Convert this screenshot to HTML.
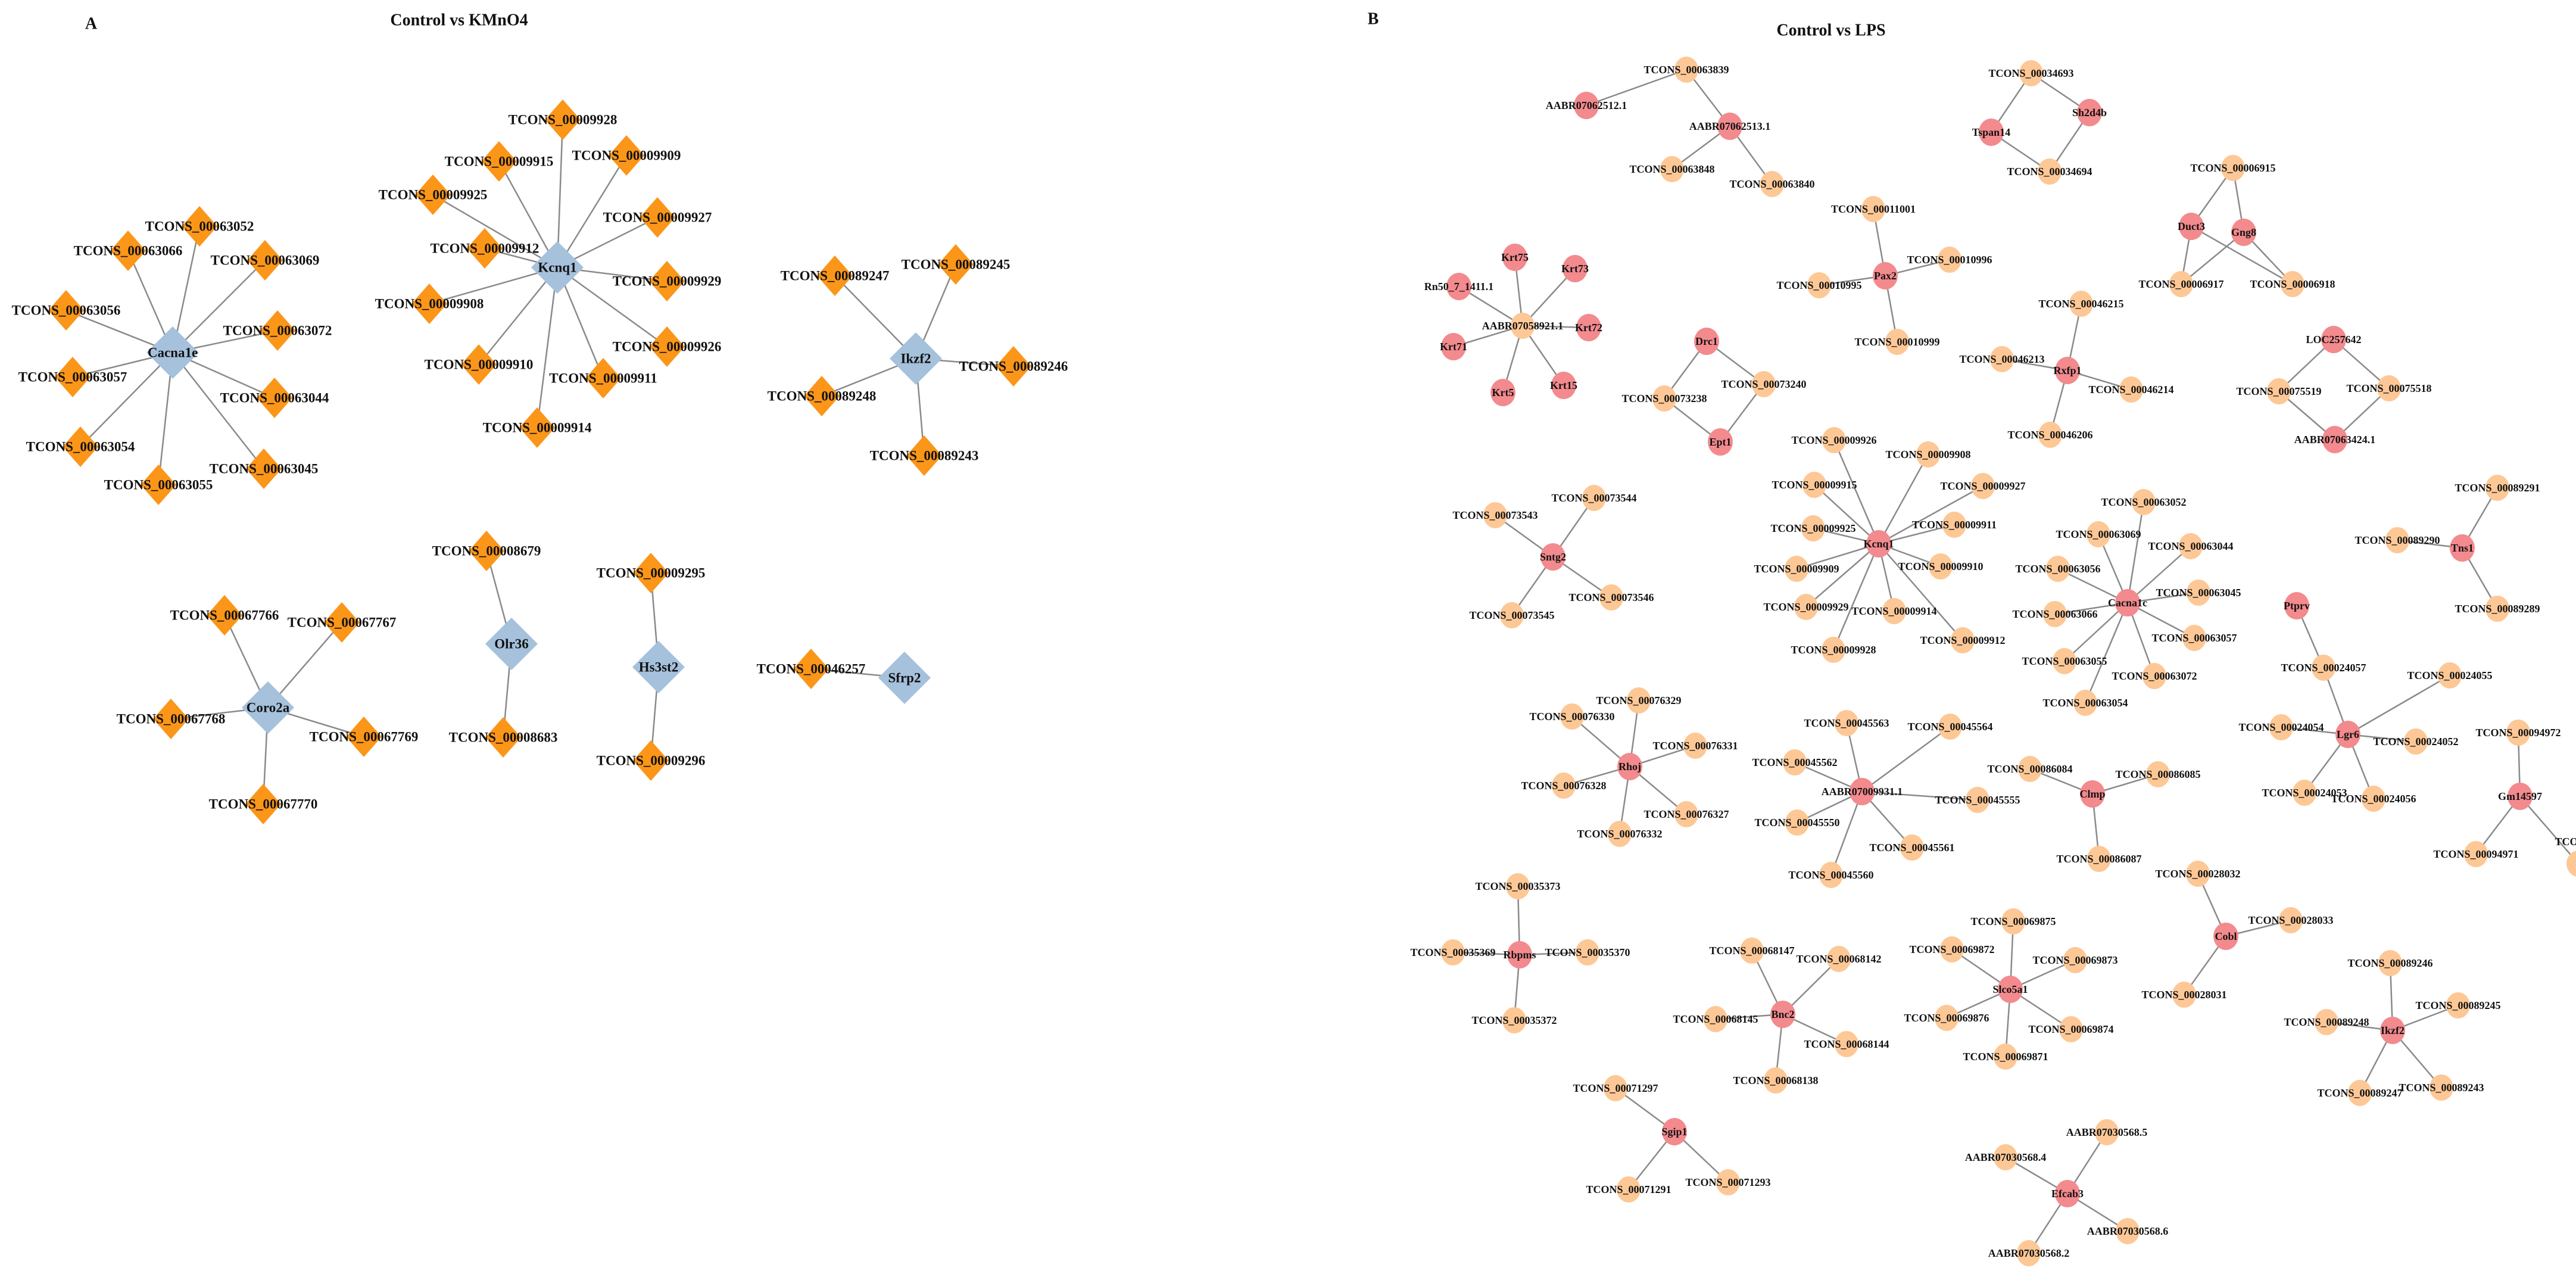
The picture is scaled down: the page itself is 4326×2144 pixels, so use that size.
<!DOCTYPE html>
<html><head><meta charset="utf-8"><style>
html,body{margin:0;padding:0;background:#fff;}
svg{display:block}
.a{font:bold 23px "Liberation Serif",serif;fill:#111;text-anchor:middle;dominant-baseline:central}
.b{font:bold 18px "Liberation Serif",serif;fill:#111;text-anchor:middle;dominant-baseline:central}
.t{font:bold 28px "Liberation Serif",serif;fill:#111;text-anchor:middle;dominant-baseline:central}
line{stroke:#8a8a8a;stroke-width:2.5}
</style></head><body>
<svg width="4326" height="2144" viewBox="0 0 4326 2144" xmlns="http://www.w3.org/2000/svg">
<defs>
<path id="dO" d="M0,-34 L30,0 L0,34 L-30,0Z" fill="#fb9619"/>
<path id="dB" d="M0,-44 L44,0 L0,44 L-44,0Z" fill="#a5c1dc"/>
<ellipse id="cO" rx="20" ry="22" fill="#fdc896"/>
<ellipse id="cR" rx="21" ry="23" fill="#f38a8e"/>
</defs>
<text class="t" x="153" y="40">A</text>
<text class="t" x="771" y="34">Control vs KMnO4</text>
<text class="t" x="2306" y="32">B</text>
<text class="t" x="3075" y="51">Control vs LPS</text>

<!-- Panel A edges -->
<g>
<line x1="290" y1="592" x2="335" y2="380"/><line x1="290" y1="592" x2="215" y2="421"/><line x1="290" y1="592" x2="445" y2="437"/><line x1="290" y1="592" x2="111" y2="521"/><line x1="290" y1="592" x2="466" y2="555"/><line x1="290" y1="592" x2="122" y2="633"/><line x1="290" y1="592" x2="461" y2="668"/><line x1="290" y1="592" x2="135" y2="750"/><line x1="290" y1="592" x2="443" y2="787"/><line x1="290" y1="592" x2="266" y2="814"/>
<line x1="936" y1="449" x2="945" y2="201"/><line x1="936" y1="449" x2="838" y2="271"/><line x1="936" y1="449" x2="1052" y2="261"/><line x1="936" y1="449" x2="727" y2="327"/><line x1="936" y1="449" x2="1104" y2="365"/><line x1="936" y1="449" x2="814" y2="417"/><line x1="936" y1="449" x2="1120" y2="472"/><line x1="936" y1="449" x2="721" y2="510"/><line x1="936" y1="449" x2="1120" y2="582"/><line x1="936" y1="449" x2="804" y2="612"/><line x1="936" y1="449" x2="1013" y2="635"/><line x1="936" y1="449" x2="902" y2="718"/>
<line x1="1538" y1="602" x2="1402" y2="463"/><line x1="1538" y1="602" x2="1605" y2="444"/><line x1="1538" y1="602" x2="1702" y2="615"/><line x1="1538" y1="602" x2="1380" y2="665"/><line x1="1538" y1="602" x2="1552" y2="765"/>
<line x1="450" y1="1188" x2="377" y2="1033"/><line x1="450" y1="1188" x2="574" y2="1045"/><line x1="450" y1="1188" x2="287" y2="1207"/><line x1="450" y1="1188" x2="611" y2="1237"/><line x1="450" y1="1188" x2="442" y2="1350"/>
<line x1="859" y1="1081" x2="817" y2="925"/><line x1="859" y1="1081" x2="845" y2="1238"/>
<line x1="1106" y1="1120" x2="1093" y2="962"/><line x1="1106" y1="1120" x2="1093" y2="1277"/>
<line x1="1519" y1="1138" x2="1362" y2="1123"/>
</g>
<!-- Panel A nodes -->
<g>
<use href="#dO" x="335" y="380"/><use href="#dO" x="215" y="421"/><use href="#dO" x="445" y="437"/><use href="#dO" x="111" y="521"/><use href="#dO" x="466" y="555"/><use href="#dO" x="122" y="633"/><use href="#dO" x="461" y="668"/><use href="#dO" x="135" y="750"/><use href="#dO" x="443" y="787"/><use href="#dO" x="266" y="814"/>
<use href="#dO" x="945" y="201"/><use href="#dO" x="838" y="271"/><use href="#dO" x="1052" y="261"/><use href="#dO" x="727" y="327"/><use href="#dO" x="1104" y="365"/><use href="#dO" x="814" y="417"/><use href="#dO" x="1120" y="472"/><use href="#dO" x="721" y="510"/><use href="#dO" x="1120" y="582"/><use href="#dO" x="804" y="612"/><use href="#dO" x="1013" y="635"/><use href="#dO" x="902" y="718"/>
<use href="#dO" x="1402" y="463"/><use href="#dO" x="1605" y="444"/><use href="#dO" x="1702" y="615"/><use href="#dO" x="1380" y="665"/><use href="#dO" x="1552" y="765"/>
<use href="#dO" x="377" y="1033"/><use href="#dO" x="574" y="1045"/><use href="#dO" x="287" y="1207"/><use href="#dO" x="611" y="1237"/><use href="#dO" x="442" y="1350"/>
<use href="#dO" x="817" y="925"/><use href="#dO" x="845" y="1238"/><use href="#dO" x="1093" y="962"/><use href="#dO" x="1093" y="1277"/><use href="#dO" x="1362" y="1123"/>
<use href="#dB" x="290" y="592"/><use href="#dB" x="936" y="449"/><use href="#dB" x="1538" y="602"/><use href="#dB" x="450" y="1188"/><use href="#dB" x="859" y="1081"/><use href="#dB" x="1106" y="1120"/><use href="#dB" x="1519" y="1138"/>
</g>
<g>
<text class="a" x="335" y="380">TCONS_00063052</text><text class="a" x="215" y="421">TCONS_00063066</text><text class="a" x="445" y="437">TCONS_00063069</text><text class="a" x="111" y="521">TCONS_00063056</text><text class="a" x="466" y="555">TCONS_00063072</text><text class="a" x="122" y="633">TCONS_00063057</text><text class="a" x="461" y="668">TCONS_00063044</text><text class="a" x="135" y="750">TCONS_00063054</text><text class="a" x="443" y="787">TCONS_00063045</text><text class="a" x="266" y="814">TCONS_00063055</text>
<text class="a" x="945" y="201">TCONS_00009928</text><text class="a" x="838" y="271">TCONS_00009915</text><text class="a" x="1052" y="261">TCONS_00009909</text><text class="a" x="727" y="327">TCONS_00009925</text><text class="a" x="1104" y="365">TCONS_00009927</text><text class="a" x="814" y="417">TCONS_00009912</text><text class="a" x="1120" y="472">TCONS_00009929</text><text class="a" x="721" y="510">TCONS_00009908</text><text class="a" x="1120" y="582">TCONS_00009926</text><text class="a" x="804" y="612">TCONS_00009910</text><text class="a" x="1013" y="635">TCONS_00009911</text><text class="a" x="902" y="718">TCONS_00009914</text>
<text class="a" x="1402" y="463">TCONS_00089247</text><text class="a" x="1605" y="444">TCONS_00089245</text><text class="a" x="1702" y="615">TCONS_00089246</text><text class="a" x="1380" y="665">TCONS_00089248</text><text class="a" x="1552" y="765">TCONS_00089243</text>
<text class="a" x="377" y="1033">TCONS_00067766</text><text class="a" x="574" y="1045">TCONS_00067767</text><text class="a" x="287" y="1207">TCONS_00067768</text><text class="a" x="611" y="1237">TCONS_00067769</text><text class="a" x="442" y="1350">TCONS_00067770</text>
<text class="a" x="817" y="925">TCONS_00008679</text><text class="a" x="845" y="1238">TCONS_00008683</text><text class="a" x="1093" y="962">TCONS_00009295</text><text class="a" x="1093" y="1277">TCONS_00009296</text><text class="a" x="1362" y="1123">TCONS_00046257</text>
<text class="a" x="290" y="592">Cacna1e</text><text class="a" x="936" y="449">Kcnq1</text><text class="a" x="1538" y="602">Ikzf2</text><text class="a" x="450" y="1188">Coro2a</text><text class="a" x="859" y="1081">Olr36</text><text class="a" x="1106" y="1120">Hs3st2</text><text class="a" x="1519" y="1138">Sfrp2</text>
</g>

<!-- Panel B edges -->
<g>
<line x1="2832" y1="117" x2="2664" y2="177"/><line x1="2832" y1="117" x2="2905" y2="212"/><line x1="2905" y1="212" x2="2808" y2="284"/><line x1="2905" y1="212" x2="2976" y2="309"/>
<line x1="3411" y1="123" x2="3344" y2="222"/><line x1="3411" y1="123" x2="3509" y2="189"/><line x1="3344" y1="222" x2="3442" y2="288"/><line x1="3509" y1="189" x2="3442" y2="288"/>
<line x1="3750" y1="282" x2="3680" y2="380"/><line x1="3750" y1="282" x2="3768" y2="390"/><line x1="3680" y1="380" x2="3663" y2="477"/><line x1="3680" y1="380" x2="3850" y2="477"/><line x1="3768" y1="390" x2="3663" y2="477"/><line x1="3768" y1="390" x2="3850" y2="477"/>
<line x1="3166" y1="463" x2="3146" y2="351"/><line x1="3166" y1="463" x2="3274" y2="436"/><line x1="3166" y1="463" x2="3055" y2="479"/><line x1="3166" y1="463" x2="3186" y2="574"/>
<line x1="2557" y1="547" x2="2544" y2="432"/><line x1="2557" y1="547" x2="2645" y2="451"/><line x1="2557" y1="547" x2="2450" y2="481"/><line x1="2557" y1="547" x2="2668" y2="550"/><line x1="2557" y1="547" x2="2441" y2="582"/><line x1="2557" y1="547" x2="2524" y2="659"/><line x1="2557" y1="547" x2="2626" y2="647"/>
<line x1="2866" y1="573" x2="2962" y2="645"/><line x1="2866" y1="573" x2="2795" y2="669"/><line x1="2795" y1="669" x2="2889" y2="742"/><line x1="2962" y1="645" x2="2889" y2="742"/>
<line x1="3472" y1="622" x2="3495" y2="510"/><line x1="3472" y1="622" x2="3362" y2="603"/><line x1="3472" y1="622" x2="3579" y2="654"/><line x1="3472" y1="622" x2="3443" y2="730"/>
<line x1="3919" y1="570" x2="3827" y2="657"/><line x1="3919" y1="570" x2="4012" y2="652"/><line x1="3827" y1="657" x2="3921" y2="738"/><line x1="4012" y1="652" x2="3921" y2="738"/>
<line x1="3155" y1="913" x2="3080" y2="739"/><line x1="3155" y1="913" x2="3238" y2="763"/><line x1="3155" y1="913" x2="3047" y2="814"/><line x1="3155" y1="913" x2="3330" y2="816"/><line x1="3155" y1="913" x2="3045" y2="887"/><line x1="3155" y1="913" x2="3282" y2="881"/><line x1="3155" y1="913" x2="3017" y2="955"/><line x1="3155" y1="913" x2="3259" y2="951"/><line x1="3155" y1="913" x2="3033" y2="1019"/><line x1="3155" y1="913" x2="3181" y2="1026"/><line x1="3155" y1="913" x2="3296" y2="1075"/><line x1="3155" y1="913" x2="3079" y2="1091"/>
<line x1="2608" y1="935" x2="2677" y2="836"/><line x1="2608" y1="935" x2="2511" y2="865"/><line x1="2608" y1="935" x2="2706" y2="1003"/><line x1="2608" y1="935" x2="2539" y2="1033"/>
<line x1="3573" y1="1012" x2="3600" y2="843"/><line x1="3573" y1="1012" x2="3524" y2="897"/><line x1="3573" y1="1012" x2="3679" y2="917"/><line x1="3573" y1="1012" x2="3456" y2="955"/><line x1="3573" y1="1012" x2="3692" y2="995"/><line x1="3573" y1="1012" x2="3451" y2="1031"/><line x1="3573" y1="1012" x2="3685" y2="1071"/><line x1="3573" y1="1012" x2="3467" y2="1110"/><line x1="3573" y1="1012" x2="3618" y2="1135"/><line x1="3573" y1="1012" x2="3502" y2="1180"/>
<line x1="4135" y1="920" x2="4194" y2="819"/><line x1="4135" y1="920" x2="4026" y2="907"/><line x1="4135" y1="920" x2="4194" y2="1022"/>
<line x1="3857" y1="1017" x2="3902" y2="1121"/><line x1="3902" y1="1121" x2="3943" y2="1233"/><line x1="3943" y1="1233" x2="4114" y2="1134"/><line x1="3943" y1="1233" x2="3831" y2="1221"/><line x1="3943" y1="1233" x2="4057" y2="1245"/><line x1="3943" y1="1233" x2="3870" y2="1331"/><line x1="3943" y1="1233" x2="3986" y2="1341"/>
<line x1="4232" y1="1337" x2="4229" y2="1230"/><line x1="4232" y1="1337" x2="4158" y2="1434"/><line x1="4232" y1="1337" x2="4330" y2="1450"/>
<line x1="2737" y1="1287" x2="2752" y2="1176"/><line x1="2737" y1="1287" x2="2640" y2="1203"/><line x1="2737" y1="1287" x2="2847" y2="1252"/><line x1="2737" y1="1287" x2="2626" y2="1319"/><line x1="2737" y1="1287" x2="2832" y2="1367"/><line x1="2737" y1="1287" x2="2720" y2="1400"/>
<line x1="3127" y1="1329" x2="3101" y2="1214"/><line x1="3127" y1="1329" x2="3275" y2="1220"/><line x1="3127" y1="1329" x2="3014" y2="1280"/><line x1="3127" y1="1329" x2="3321" y2="1343"/><line x1="3127" y1="1329" x2="3018" y2="1381"/><line x1="3127" y1="1329" x2="3211" y2="1423"/><line x1="3127" y1="1329" x2="3075" y2="1469"/>
<line x1="3514" y1="1333" x2="3409" y2="1291"/><line x1="3514" y1="1333" x2="3624" y2="1300"/><line x1="3514" y1="1333" x2="3525" y2="1442"/>
<line x1="2552" y1="1603" x2="2549" y2="1488"/><line x1="2552" y1="1603" x2="2440" y2="1599"/><line x1="2552" y1="1603" x2="2666" y2="1599"/><line x1="2552" y1="1603" x2="2543" y2="1713"/>
<line x1="2994" y1="1703" x2="2942" y2="1596"/><line x1="2994" y1="1703" x2="3088" y2="1610"/><line x1="2994" y1="1703" x2="2881" y2="1711"/><line x1="2994" y1="1703" x2="3101" y2="1753"/><line x1="2994" y1="1703" x2="2982" y2="1814"/>
<line x1="3376" y1="1661" x2="3381" y2="1547"/><line x1="3376" y1="1661" x2="3278" y2="1594"/><line x1="3376" y1="1661" x2="3485" y2="1612"/><line x1="3376" y1="1661" x2="3269" y2="1709"/><line x1="3376" y1="1661" x2="3478" y2="1728"/><line x1="3376" y1="1661" x2="3368" y2="1774"/>
<line x1="3738" y1="1572" x2="3691" y2="1467"/><line x1="3738" y1="1572" x2="3847" y2="1545"/><line x1="3738" y1="1572" x2="3668" y2="1670"/>
<line x1="4018" y1="1730" x2="4014" y2="1617"/><line x1="4018" y1="1730" x2="4128" y2="1688"/><line x1="4018" y1="1730" x2="3907" y2="1716"/><line x1="4018" y1="1730" x2="3963" y2="1835"/><line x1="4018" y1="1730" x2="4100" y2="1826"/>
<line x1="2812" y1="1900" x2="2713" y2="1827"/><line x1="2812" y1="1900" x2="2735" y2="1997"/><line x1="2812" y1="1900" x2="2902" y2="1985"/>
<line x1="3472" y1="2004" x2="3538" y2="1901"/><line x1="3472" y1="2004" x2="3368" y2="1943"/><line x1="3472" y1="2004" x2="3573" y2="2067"/><line x1="3472" y1="2004" x2="3407" y2="2104"/>
</g>
<!-- Panel B nodes: orange -->
<g>
<use href="#cO" x="2832" y="117"/><use href="#cO" x="2808" y="284"/><use href="#cO" x="2976" y="309"/>
<use href="#cO" x="3411" y="123"/><use href="#cO" x="3442" y="288"/>
<use href="#cO" x="3750" y="282"/><use href="#cO" x="3663" y="477"/><use href="#cO" x="3850" y="477"/>
<use href="#cO" x="3146" y="351"/><use href="#cO" x="3274" y="436"/><use href="#cO" x="3055" y="479"/><use href="#cO" x="3186" y="574"/>
<use href="#cO" x="2557" y="547"/>
<use href="#cO" x="2962" y="645"/><use href="#cO" x="2795" y="669"/>
<use href="#cO" x="3495" y="510"/><use href="#cO" x="3362" y="603"/><use href="#cO" x="3579" y="654"/><use href="#cO" x="3443" y="730"/>
<use href="#cO" x="3827" y="657"/><use href="#cO" x="4012" y="652"/>
<use href="#cO" x="3080" y="739"/><use href="#cO" x="3238" y="763"/><use href="#cO" x="3047" y="814"/><use href="#cO" x="3330" y="816"/><use href="#cO" x="3045" y="887"/><use href="#cO" x="3282" y="881"/><use href="#cO" x="3017" y="955"/><use href="#cO" x="3259" y="951"/><use href="#cO" x="3033" y="1019"/><use href="#cO" x="3181" y="1026"/><use href="#cO" x="3296" y="1075"/><use href="#cO" x="3079" y="1091"/>
<use href="#cO" x="2677" y="836"/><use href="#cO" x="2511" y="865"/><use href="#cO" x="2706" y="1003"/><use href="#cO" x="2539" y="1033"/>
<use href="#cO" x="3600" y="843"/><use href="#cO" x="3524" y="897"/><use href="#cO" x="3679" y="917"/><use href="#cO" x="3456" y="955"/><use href="#cO" x="3692" y="995"/><use href="#cO" x="3451" y="1031"/><use href="#cO" x="3685" y="1071"/><use href="#cO" x="3467" y="1110"/><use href="#cO" x="3618" y="1135"/><use href="#cO" x="3502" y="1180"/>
<use href="#cO" x="4194" y="819"/><use href="#cO" x="4026" y="907"/><use href="#cO" x="4194" y="1022"/>
<use href="#cO" x="3902" y="1121"/><use href="#cO" x="4114" y="1134"/><use href="#cO" x="3831" y="1221"/><use href="#cO" x="4057" y="1245"/><use href="#cO" x="3870" y="1331"/><use href="#cO" x="3986" y="1341"/>
<use href="#cO" x="4229" y="1230"/><use href="#cO" x="4158" y="1434"/><use href="#cO" x="4330" y="1450"/>
<use href="#cO" x="2752" y="1176"/><use href="#cO" x="2640" y="1203"/><use href="#cO" x="2847" y="1252"/><use href="#cO" x="2626" y="1319"/><use href="#cO" x="2832" y="1367"/><use href="#cO" x="2720" y="1400"/>
<use href="#cO" x="3101" y="1214"/><use href="#cO" x="3275" y="1220"/><use href="#cO" x="3014" y="1280"/><use href="#cO" x="3321" y="1343"/><use href="#cO" x="3018" y="1381"/><use href="#cO" x="3211" y="1423"/><use href="#cO" x="3075" y="1469"/>
<use href="#cO" x="3409" y="1291"/><use href="#cO" x="3624" y="1300"/><use href="#cO" x="3525" y="1442"/>
<use href="#cO" x="2549" y="1488"/><use href="#cO" x="2440" y="1599"/><use href="#cO" x="2666" y="1599"/><use href="#cO" x="2543" y="1713"/>
<use href="#cO" x="2942" y="1596"/><use href="#cO" x="3088" y="1610"/><use href="#cO" x="2881" y="1711"/><use href="#cO" x="3101" y="1753"/><use href="#cO" x="2982" y="1814"/>
<use href="#cO" x="3381" y="1547"/><use href="#cO" x="3278" y="1594"/><use href="#cO" x="3485" y="1612"/><use href="#cO" x="3269" y="1709"/><use href="#cO" x="3478" y="1728"/><use href="#cO" x="3368" y="1774"/>
<use href="#cO" x="3691" y="1467"/><use href="#cO" x="3847" y="1545"/><use href="#cO" x="3668" y="1670"/>
<use href="#cO" x="4014" y="1617"/><use href="#cO" x="4128" y="1688"/><use href="#cO" x="3907" y="1716"/><use href="#cO" x="3963" y="1835"/><use href="#cO" x="4100" y="1826"/>
<use href="#cO" x="2713" y="1827"/><use href="#cO" x="2735" y="1997"/><use href="#cO" x="2902" y="1985"/>
<use href="#cO" x="3538" y="1901"/><use href="#cO" x="3368" y="1943"/><use href="#cO" x="3573" y="2067"/><use href="#cO" x="3407" y="2104"/>
</g>
<!-- Panel B nodes: red -->
<g>
<use href="#cR" x="2664" y="177"/><use href="#cR" x="2905" y="212"/><use href="#cR" x="3509" y="189"/><use href="#cR" x="3344" y="222"/><use href="#cR" x="3680" y="380"/><use href="#cR" x="3768" y="390"/><use href="#cR" x="3166" y="463"/>
<use href="#cR" x="2544" y="432"/><use href="#cR" x="2645" y="451"/><use href="#cR" x="2450" y="481"/><use href="#cR" x="2668" y="550"/><use href="#cR" x="2441" y="582"/><use href="#cR" x="2524" y="659"/><use href="#cR" x="2626" y="647"/>
<use href="#cR" x="2866" y="573"/><use href="#cR" x="2889" y="742"/><use href="#cR" x="3472" y="622"/><use href="#cR" x="3919" y="570"/><use href="#cR" x="3921" y="738"/>
<use href="#cR" x="3155" y="913"/><use href="#cR" x="2608" y="935"/><use href="#cR" x="3573" y="1012"/><use href="#cR" x="4135" y="920"/><use href="#cR" x="3857" y="1017"/><use href="#cR" x="3943" y="1233"/><use href="#cR" x="4232" y="1337"/>
<use href="#cR" x="2737" y="1287"/><use href="#cR" x="3127" y="1329"/><use href="#cR" x="3514" y="1333"/><use href="#cR" x="2552" y="1603"/><use href="#cR" x="2994" y="1703"/><use href="#cR" x="3376" y="1661"/><use href="#cR" x="3738" y="1572"/><use href="#cR" x="4018" y="1730"/><use href="#cR" x="2812" y="1900"/><use href="#cR" x="3472" y="2004"/>
</g>
<!-- Panel B labels -->
<g>
<text class="b" x="2832" y="117">TCONS_00063839</text><text class="b" x="2664" y="177">AABR07062512.1</text><text class="b" x="2905" y="212">AABR07062513.1</text><text class="b" x="2808" y="284">TCONS_00063848</text><text class="b" x="2976" y="309">TCONS_00063840</text>
<text class="b" x="3411" y="123">TCONS_00034693</text><text class="b" x="3509" y="189">Sh2d4b</text><text class="b" x="3344" y="222">Tspan14</text><text class="b" x="3442" y="288">TCONS_00034694</text>
<text class="b" x="3750" y="282">TCONS_00006915</text><text class="b" x="3680" y="380">Duct3</text><text class="b" x="3768" y="390">Gng8</text><text class="b" x="3663" y="477">TCONS_00006917</text><text class="b" x="3850" y="477">TCONS_00006918</text>
<text class="b" x="3146" y="351">TCONS_00011001</text><text class="b" x="3166" y="463">Pax2</text><text class="b" x="3274" y="436">TCONS_00010996</text><text class="b" x="3055" y="479">TCONS_00010995</text><text class="b" x="3186" y="574">TCONS_00010999</text>
<text class="b" x="2557" y="547">AABR07058921.1</text><text class="b" x="2544" y="432">Krt75</text><text class="b" x="2645" y="451">Krt73</text><text class="b" x="2450" y="481">Rn50_7_1411.1</text><text class="b" x="2668" y="550">Krt72</text><text class="b" x="2441" y="582">Krt71</text><text class="b" x="2524" y="659">Krt5</text><text class="b" x="2626" y="647">Krt15</text>
<text class="b" x="2866" y="573">Drc1</text><text class="b" x="2962" y="645">TCONS_00073240</text><text class="b" x="2795" y="669">TCONS_00073238</text><text class="b" x="2889" y="742">Ept1</text>
<text class="b" x="3495" y="510">TCONS_00046215</text><text class="b" x="3472" y="622">Rxfp1</text><text class="b" x="3362" y="603">TCONS_00046213</text><text class="b" x="3579" y="654">TCONS_00046214</text><text class="b" x="3443" y="730">TCONS_00046206</text>
<text class="b" x="3919" y="570">LOC257642</text><text class="b" x="3827" y="657">TCONS_00075519</text><text class="b" x="4012" y="652">TCONS_00075518</text><text class="b" x="3921" y="738">AABR07063424.1</text>
<text class="b" x="3155" y="913">Kcnq1</text><text class="b" x="3080" y="739">TCONS_00009926</text><text class="b" x="3238" y="763">TCONS_00009908</text><text class="b" x="3047" y="814">TCONS_00009915</text><text class="b" x="3330" y="816">TCONS_00009927</text><text class="b" x="3045" y="887">TCONS_00009925</text><text class="b" x="3282" y="881">TCONS_00009911</text><text class="b" x="3017" y="955">TCONS_00009909</text><text class="b" x="3259" y="951">TCONS_00009910</text><text class="b" x="3033" y="1019">TCONS_00009929</text><text class="b" x="3181" y="1026">TCONS_00009914</text><text class="b" x="3296" y="1075">TCONS_00009912</text><text class="b" x="3079" y="1091">TCONS_00009928</text>
<text class="b" x="2608" y="935">Sntg2</text><text class="b" x="2677" y="836">TCONS_00073544</text><text class="b" x="2511" y="865">TCONS_00073543</text><text class="b" x="2706" y="1003">TCONS_00073546</text><text class="b" x="2539" y="1033">TCONS_00073545</text>
<text class="b" x="3573" y="1012">Cacna1c</text><text class="b" x="3600" y="843">TCONS_00063052</text><text class="b" x="3524" y="897">TCONS_00063069</text><text class="b" x="3679" y="917">TCONS_00063044</text><text class="b" x="3456" y="955">TCONS_00063056</text><text class="b" x="3692" y="995">TCONS_00063045</text><text class="b" x="3451" y="1031">TCONS_00063066</text><text class="b" x="3685" y="1071">TCONS_00063057</text><text class="b" x="3467" y="1110">TCONS_00063055</text><text class="b" x="3618" y="1135">TCONS_00063072</text><text class="b" x="3502" y="1180">TCONS_00063054</text>
<text class="b" x="4135" y="920">Tns1</text><text class="b" x="4194" y="819">TCONS_00089291</text><text class="b" x="4026" y="907">TCONS_00089290</text><text class="b" x="4194" y="1022">TCONS_00089289</text>
<text class="b" x="3857" y="1017">Ptprv</text><text class="b" x="3902" y="1121">TCONS_00024057</text><text class="b" x="4114" y="1134">TCONS_00024055</text><text class="b" x="3943" y="1233">Lgr6</text><text class="b" x="3831" y="1221">TCONS_00024054</text><text class="b" x="4057" y="1245">TCONS_00024052</text><text class="b" x="3870" y="1331">TCONS_00024053</text><text class="b" x="3986" y="1341">TCONS_00024056</text>
<text class="b" x="4232" y="1337">Gm14597</text><text class="b" x="4229" y="1230">TCONS_00094972</text><text class="b" x="4158" y="1434">TCONS_00094971</text><text class="b" x="4362" y="1413">TCONS_00094973</text>
<text class="b" x="2737" y="1287">Rhoj</text><text class="b" x="2752" y="1176">TCONS_00076329</text><text class="b" x="2640" y="1203">TCONS_00076330</text><text class="b" x="2847" y="1252">TCONS_00076331</text><text class="b" x="2626" y="1319">TCONS_00076328</text><text class="b" x="2832" y="1367">TCONS_00076327</text><text class="b" x="2720" y="1400">TCONS_00076332</text>
<text class="b" x="3127" y="1329">AABR07009931.1</text><text class="b" x="3101" y="1214">TCONS_00045563</text><text class="b" x="3275" y="1220">TCONS_00045564</text><text class="b" x="3014" y="1280">TCONS_00045562</text><text class="b" x="3321" y="1343">TCONS_00045555</text><text class="b" x="3018" y="1381">TCONS_00045550</text><text class="b" x="3211" y="1423">TCONS_00045561</text><text class="b" x="3075" y="1469">TCONS_00045560</text>
<text class="b" x="3514" y="1333">Clmp</text><text class="b" x="3409" y="1291">TCONS_00086084</text><text class="b" x="3624" y="1300">TCONS_00086085</text><text class="b" x="3525" y="1442">TCONS_00086087</text>
<text class="b" x="2552" y="1603">Rbpms</text><text class="b" x="2549" y="1488">TCONS_00035373</text><text class="b" x="2440" y="1599">TCONS_00035369</text><text class="b" x="2666" y="1599">TCONS_00035370</text><text class="b" x="2543" y="1713">TCONS_00035372</text>
<text class="b" x="2994" y="1703">Bnc2</text><text class="b" x="2942" y="1596">TCONS_00068147</text><text class="b" x="3088" y="1610">TCONS_00068142</text><text class="b" x="2881" y="1711">TCONS_00068145</text><text class="b" x="3101" y="1753">TCONS_00068144</text><text class="b" x="2982" y="1814">TCONS_00068138</text>
<text class="b" x="3376" y="1661">Slco5a1</text><text class="b" x="3381" y="1547">TCONS_00069875</text><text class="b" x="3278" y="1594">TCONS_00069872</text><text class="b" x="3485" y="1612">TCONS_00069873</text><text class="b" x="3269" y="1709">TCONS_00069876</text><text class="b" x="3478" y="1728">TCONS_00069874</text><text class="b" x="3368" y="1774">TCONS_00069871</text>
<text class="b" x="3738" y="1572">Cobl</text><text class="b" x="3691" y="1467">TCONS_00028032</text><text class="b" x="3847" y="1545">TCONS_00028033</text><text class="b" x="3668" y="1670">TCONS_00028031</text>
<text class="b" x="4018" y="1730">Ikzf2</text><text class="b" x="4014" y="1617">TCONS_00089246</text><text class="b" x="4128" y="1688">TCONS_00089245</text><text class="b" x="3907" y="1716">TCONS_00089248</text><text class="b" x="3963" y="1835">TCONS_00089247</text><text class="b" x="4100" y="1826">TCONS_00089243</text>
<text class="b" x="2812" y="1900">Sgip1</text><text class="b" x="2713" y="1827">TCONS_00071297</text><text class="b" x="2735" y="1997">TCONS_00071291</text><text class="b" x="2902" y="1985">TCONS_00071293</text>
<text class="b" x="3472" y="2004">Efcab3</text><text class="b" x="3538" y="1901">AABR07030568.5</text><text class="b" x="3368" y="1943">AABR07030568.4</text><text class="b" x="3573" y="2067">AABR07030568.6</text><text class="b" x="3407" y="2104">AABR07030568.2</text>
</g>
</svg>
</body></html>
